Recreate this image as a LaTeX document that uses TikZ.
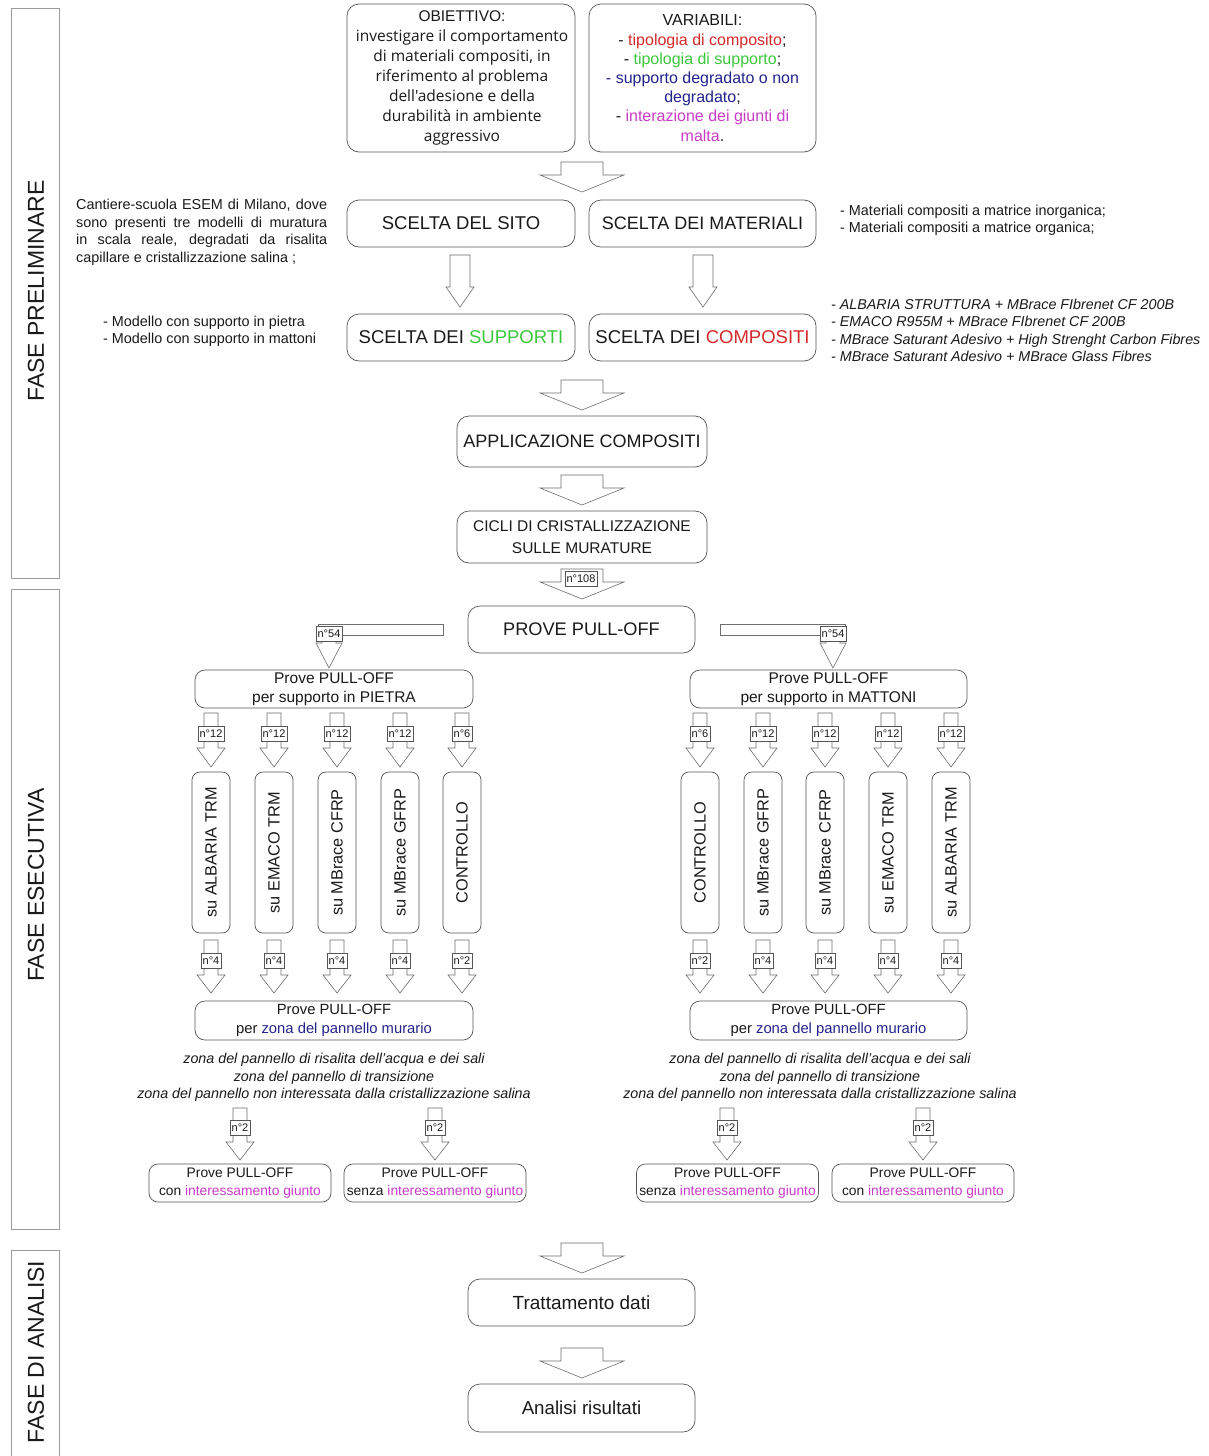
\documentclass[tikz,border=0pt]{standalone}
\usepackage{fontspec}
\setmainfont{Liberation Sans}
\newfontfamily\humfont{Open Sans}
\usetikzlibrary{positioning}
\definecolor{ink}{HTML}{1A1A1A}
\definecolor{edge}{HTML}{555555}
\definecolor{phaseedge}{HTML}{9A9A9A}
\definecolor{arredge}{HTML}{6E6E6E}
\definecolor{vred}{HTML}{D42A2A}
\definecolor{vgreen}{HTML}{3CC83C}
\definecolor{vblue}{HTML}{23238C}
\definecolor{vmagenta}{HTML}{C83CC8}
\newcommand{\setfs}[2]{\fontsize{#1}{#2}\selectfont}
% block arrows, drawn down from a named coordinate
\newcommand{\bigdown}[1]{\draw[blockarr] (#1) ++(-21,0) -- ++(42,0) -- ++(0,13) -- ++(21,0) -- ++(-42,17) -- ++(-42,-17) -- ++(21,0) -- cycle;}
\newcommand{\thindown}[1]{\draw[blockarr] (#1) ++(-10,0) -- ++(20,0) -- ++(0,32) -- ++(4,0) -- ++(-14,20) -- ++(-14,-20) -- ++(4,0) -- cycle;}
\newcommand{\smalldown}[3]{\draw[blockarr] (#1) ++(-7,0) -- ++(14,0) -- ++(0,#2) -- ++(7,0) -- ++(-14,#3) -- ++(-14,-#3) -- ++(7,0) -- cycle;}
\tikzset{
  box/.style={draw=edge, rounded corners=12pt, inner sep=0pt, text=ink, align=center, line width=0.7pt},
  groupbox/.style={box, rounded corners=10pt, font=\setfs{15.5}{19}},
  vbox/.style={box, rounded corners=8pt, minimum width=161pt, minimum height=38pt, font=\setfs{16.3}{18}},
  endbox/.style={box, rounded corners=9pt, minimum width=182pt, minimum height=38pt, font=\setfs{13.8}{17.5}},
  phase/.style={draw=phaseedge, line width=0.7pt},
  phaselbl/.style={rotate=90, text=ink, font=\setfs{23}{26}},
  blockarr/.style={draw=arredge, fill=white, line width=0.6pt, line join=miter},
  numlbl/.style={draw=edge, fill=white, line width=0.5pt, inner sep=1.5pt, minimum height=15pt, text=ink, font=\setfs{11}{12}},
  note/.style={text=ink, inner sep=0pt, font=\setfs{14.4}{17.5}},
  itnote/.style={note, font=\setfs{14.3}{17.5}\itshape}
}
\begin{document}
\begin{tikzpicture}[x=1pt, y=-1pt]
  \useasboundingbox[fill=white] (0,0) rectangle (1208,1456);

  % phases
  \draw[phase] (11,8) rectangle (59,578);
  \draw[phase] (11,589) rectangle (59,1229);
  \draw[phase] (59,1470) |- (11,1250) -- (11,1470);
  \node[phaselbl] (ph1) at (36,291) {FASE PRELIMINARE};
  \node[phaselbl] (ph2) at (36,885) {FASE ESECUTIVA};
  \node[phaselbl] (ph3) at (36,1352) {FASE DI ANALISI};

  % fase preliminare
  \node[box, minimum width=228pt, minimum height=148pt] (obj) at (461,78) {};
  \node[text=ink, align=center, font=\setfs{15.5}{20}] (objtxt) at (462,78)
    {OBIETTIVO:\\ {\humfont investigare il comportamento}\\ {\humfont di materiali compositi, in}\\ {\humfont riferimento al problema}\\ {\humfont dell'adesione e della}\\ {\humfont durabilità in ambiente}\\ {\humfont aggressivo}};
  \node[box, minimum width=227pt, minimum height=148pt, font=\setfs{16}{19.2}] (var) at (702.5,78)
    {VARIABILI:\\ - \textcolor{vred}{tipologia di composito};\\ - \textcolor{vgreen}{tipologia di supporto};\\ \textcolor{vblue}{- supporto degradato o non}\\ \textcolor{vblue}{degradato};\\ - \textcolor{vmagenta}{interazione dei giunti di}\\ \textcolor{vmagenta}{malta}.};

  \coordinate (a1) at (582,162);
  \bigdown{a1}

  \node[box, minimum width=228pt, minimum height=47pt, font=\setfs{18.5}{20}] (sito) at (461,223.5) {SCELTA DEL SITO};
  \node[box, minimum width=227pt, minimum height=47pt, font=\setfs{18}{20}] (mat) at (702.5,223.5) {SCELTA DEI MATERIALI};
  \node[note, text width=251pt, align=justify, anchor=north west] (sitotxt) at (76,199)
    {Cantiere-scuola ESEM di Milano, dove\linebreak sono presenti tre modelli di muratura\linebreak in scala reale, degradati da risalita\linebreak capillare e cristallizzazione salina ;};
  \node[note, align=left, anchor=west] (mattxt) at (840,220.5)
    {- Materiali compositi a matrice inorganica;\\ - Materiali compositi a matrice organica;};

  \coordinate (a2) at (460,255);
  \coordinate (a3) at (703,255);
  \thindown{a2}
  \thindown{a3}

  \node[box, minimum width=228pt, minimum height=47pt, font=\setfs{18.5}{20}] (supp) at (461,337.5) {SCELTA DEI \textcolor{vgreen}{SUPPORTI}};
  \node[box, minimum width=227pt, minimum height=47pt, font=\setfs{18.5}{20}] (comp) at (702.5,337.5) {SCELTA DEI \textcolor{vred}{COMPOSITI}};
  \node[note, align=left, anchor=west] (supptxt) at (103,331.5)
    {- Modello con supporto in pietra\\ - Modello con supporto in mattoni};
  \node[itnote, align=left, anchor=west] (comptxt) at (831,330.5)
    {- ALBARIA STRUTTURA + MBrace FIbrenet CF 200B\\ - EMACO R955M + MBrace FIbrenet CF 200B\\ - MBrace Saturant Adesivo + High Strenght Carbon Fibres\\ - MBrace Saturant Adesivo + MBrace Glass Fibres};

  \coordinate (a4) at (582,380);
  \bigdown{a4}
  \node[box, minimum width=250pt, minimum height=51pt, font=\setfs{18}{20}] (appl) at (582,441.5) {APPLICAZIONE COMPOSITI};
  \coordinate (a5) at (582,475);
  \bigdown{a5}
  \node[box, minimum width=250pt, minimum height=52pt, font=\setfs{15.5}{22}] (cicli) at (582,537) {CICLI DI CRISTALLIZZAZIONE\\ SULLE MURATURE};

  % fase esecutiva
  \coordinate (a6) at (582,569);
  \bigdown{a6}
  \node[numlbl] (n108) at (581,579) {n°108};
  \node[box, minimum width=227pt, minimum height=47pt, font=\setfs{18.2}{20}] (prove) at (581.5,629.5) {PROVE PULL-OFF};

  \draw[blockarr] (318,624) rectangle (443,635);
  \draw[blockarr] (322,634) -- (336,634) -- (336,643) -- (342,643) -- (329,668) -- (316,643) -- (322,643) -- cycle;
  \node[numlbl] (n54l) at (329,634) {n°54};
  \draw[blockarr] (720,624) rectangle (845,635);
  \draw[blockarr] (826,634) -- (840,634) -- (840,643) -- (846,643) -- (833,668) -- (820,643) -- (826,643) -- cycle;
  \node[numlbl] (n54r) at (833,634) {n°54};

  \node[groupbox, minimum width=278pt, minimum height=38pt] (pietra) at (334,689) {Prove PULL-OFF\\ per supporto in PIETRA};
  \node[groupbox, minimum width=277pt, minimum height=38pt] (mattoni) at (828.5,689) {Prove PULL-OFF\\ per supporto in MATTONI};

  \foreach \x/\na/\lab/\nb [count=\i] in {211/n°12/su ALBARIA TRM/n°4, 274/n°12/su EMACO TRM/n°4, 337/n°12/su MBrace CFRP/n°4, 400/n°12/su MBrace GFRP/n°4, 462/n°6/CONTROLLO/n°2} {
    \coordinate (lt\i) at (\x,713);
    \smalldown{lt\i}{35}{19}
    \node[numlbl] (ln\i) at (\x,734) {\na};
    \node[vbox, rotate=90] (lv\i) at (\x,852.5) {\lab};
    \coordinate (lb\i) at (\x,940);
    \smalldown{lb\i}{35}{18}
    \node[numlbl] (lm\i) at (\x,961) {\nb};
  }
  \foreach \x/\na/\lab/\nb [count=\i] in {700/n°6/CONTROLLO/n°2, 763/n°12/su MBrace GFRP/n°4, 825/n°12/su MBrace CFRP/n°4, 888/n°12/su EMACO TRM/n°4, 951/n°12/su ALBARIA TRM/n°4} {
    \coordinate (rt\i) at (\x,713);
    \smalldown{rt\i}{35}{19}
    \node[numlbl] (rn\i) at (\x,734) {\na};
    \node[vbox, rotate=90] (rv\i) at (\x,852.5) {\lab};
    \coordinate (rb\i) at (\x,940);
    \smalldown{rb\i}{35}{18}
    \node[numlbl] (rm\i) at (\x,961) {\nb};
  }

  \node[groupbox, minimum width=278pt, minimum height=39pt, font=\setfs{14.8}{19}] (zonal) at (334,1020.5) {Prove PULL-OFF\\ per \textcolor{vblue}{zona del pannello murario}};
  \node[groupbox, minimum width=277pt, minimum height=39pt, font=\setfs{14.8}{19}] (zonar) at (828.5,1020.5) {Prove PULL-OFF\\ per \textcolor{vblue}{zona del pannello murario}};
  \node[itnote, align=center] (zonaltxt) at (334,1077.5)
    {zona del pannello di risalita dell'acqua e dei sali\\ zona del pannello di transizione\\ zona del pannello non interessata dalla cristallizzazione salina};
  \node[itnote, align=center] (zonartxt) at (820,1077.5)
    {zona del pannello di risalita dell'acqua e dei sali\\ zona del pannello di transizione\\ zona del pannello non interessata dalla cristallizzazione salina};

  \foreach \x [count=\i] in {240,435,727,923} {
    \coordinate (gt\i) at (\x,1108);
    \smalldown{gt\i}{34}{18}
    \node[numlbl] (gn\i) at (\x,1128) {n°2};
  }
  \node[endbox] (g1) at (240,1183) {Prove PULL-OFF\\ con \textcolor{vmagenta}{interessamento giunto}};
  \node[endbox] (g2) at (435,1183) {Prove PULL-OFF\\ senza \textcolor{vmagenta}{interessamento giunto}};
  \node[endbox] (g3) at (727.5,1183) {Prove PULL-OFF\\ senza \textcolor{vmagenta}{interessamento giunto}};
  \node[endbox] (g4) at (923,1183) {Prove PULL-OFF\\ con \textcolor{vmagenta}{interessamento giunto}};

  % fase di analisi
  \coordinate (a7) at (582,1243);
  \bigdown{a7}
  \node[box, minimum width=227pt, minimum height=47pt, font=\setfs{19}{20}] (tratt) at (581.5,1302.5) {Trattamento dati};
  \coordinate (a8) at (582,1348);
  \bigdown{a8}
  \node[box, minimum width=227pt, minimum height=48pt, font=\setfs{18.7}{20}] (anal) at (581.5,1408) {Analisi risultati};
\end{tikzpicture}
\end{document}
